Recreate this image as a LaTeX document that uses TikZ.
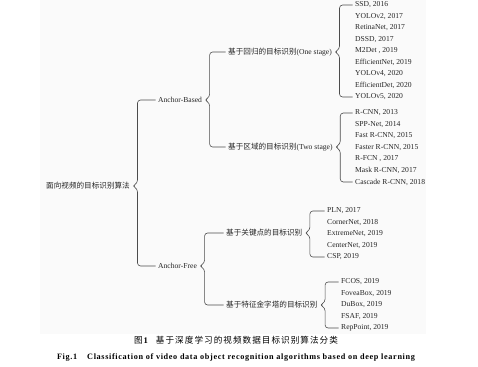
\documentclass[tikz,border=0pt]{standalone}
\usepackage{fontspec}
\setmainfont{Liberation Serif}
\newfontfamily\cjk{Noto Sans CJK SC}
\newfontfamily\cjkcap[LetterSpace=12]{Noto Sans CJK SC}
\newfontfamily\figfont[LetterSpace=8]{Liberation Serif}
\usetikzlibrary{calc}
\tikzset{
  lbl/.style={anchor=west, inner sep=2.5pt, font=\fontsize{7.6}{8}\selectfont, text=black!85},
  br/.style={draw=black!70, line width=0.6pt, rounded corners=3pt},
}
\newcommand\mybrace[3]{%
  \path (#1.east) ++(5,0) coordinate (bv);
  \draw[br] (#2.west) -- (bv |- #2.west) -- ($(bv)+(0,-3)$) -- (#1.east) -- ($(bv)+(0,3)$) -- (bv |- #3.west) -- (#3.west);
}
\begin{document}
\begin{tikzpicture}[x=1pt,y=-1pt]
\useasboundingbox (0,0) rectangle (478,366);
\fill[black!2] (40,0) rectangle (426,334);

\node[lbl] (root) at (43.5,186) {{\cjk 面向视频的目标识别算法}};
\node[lbl] (ab) at (155.5,100) {Anchor-Based};
\node[lbl] (af) at (155.5,266) {Anchor-Free};
\node[lbl] (one) at (225.5,52) {{\cjk 基于回归的目标识别}(One stage)};
\node[lbl] (two) at (225.5,147) {{\cjk 基于区域的目标识别}(Two stage)};
\node[lbl] (kp) at (223.5,233) {{\cjk 基于关键点的目标识别}};
\node[lbl] (fp) at (223.5,305) {{\cjk 基于特征金字塔的目标识别}};

\foreach \t [count=\i] in {{SSD, 2016},{YOLOv2, 2017},{RetinaNet, 2017},{DSSD, 2017},{M2Det , 2019},{EfficientNet, 2019},{YOLOv4, 2020},{EfficientDet, 2020},{YOLOv5, 2020}}
  \node[lbl] (o\i) at (352.5,{5+11.5*(\i-1)}) {\t};
\foreach \t [count=\i] in {{R-CNN, 2013},{SPP-Net, 2014},{Fast R-CNN, 2015},{Faster R-CNN, 2015},{R-FCN , 2017},{Mask R-CNN, 2017},{Cascade R-CNN, 2018}}
  \node[lbl] (t\i) at (352.5,{113+11.5*(\i-1)}) {\t};
\foreach \t [count=\i] in {{PLN, 2017},{CornerNet, 2018},{ExtremeNet, 2019},{CenterNet, 2019},{CSP, 2019}}
  \node[lbl] (k\i) at (324.5,{211+11.5*(\i-1)}) {\t};
\foreach \t [count=\i] in {{FCOS, 2019},{FoveaBox, 2019},{DuBox, 2019},{FSAF, 2019},{RepPoint, 2019}}
  \node[lbl] (f\i) at (338.5,{282+11.5*(\i-1)}) {\t};

\mybrace{root}{ab}{af}
\mybrace{ab}{one}{two}
\mybrace{af}{kp}{fp}
\mybrace{one}{o1}{o9}
\mybrace{two}{t1}{t7}
\mybrace{kp}{k1}{k5}
\mybrace{fp}{f1}{f5}

\node[inner sep=0pt, font=\fontsize{8.6}{9}\selectfont] (cap1) at (236,340.5)
  {{\cjkcap 图}\textbf{1}\hspace{8pt}{\cjkcap 基于深度学习的视频数据目标识别算法分类}};
\node[inner sep=0pt, font=\figfont\bfseries\fontsize{8.2}{9}\selectfont] (cap2) at (236,357.5)
  {Fig.1\hspace{10pt}Classification of video data object recognition algorithms based on deep learning};
\end{tikzpicture}
\end{document}
